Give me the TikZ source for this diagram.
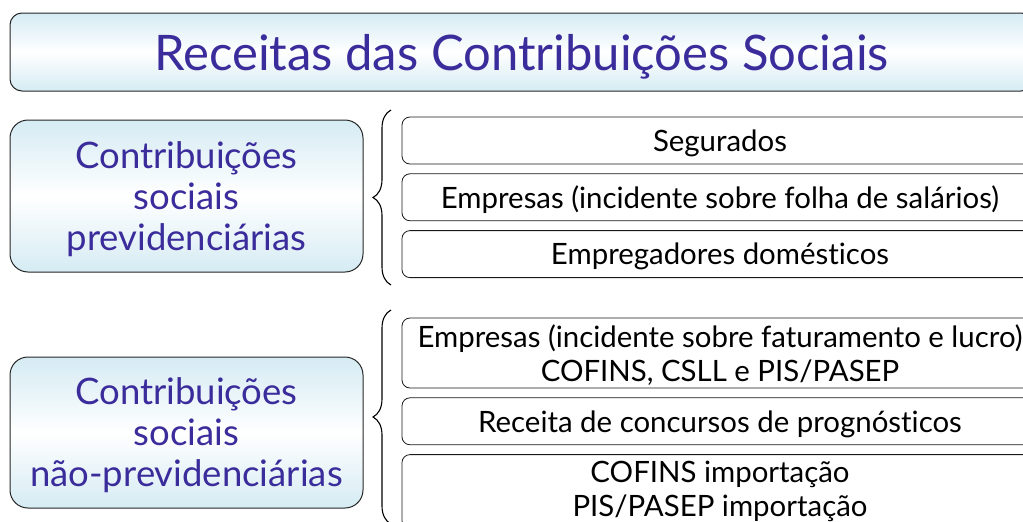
\documentclass[tikz,border=0pt]{standalone}
\usepackage{fontspec}
\setmainfont{Lato}[Ligatures=NoCommon]
\usetikzlibrary{positioning,decorations.pathreplacing}

\definecolor{tinta}{HTML}{3B2C9C}
\definecolor{azulclaro}{HTML}{D5EBF3}

\begin{document}
\begin{tikzpicture}[x=1pt,y=-1pt,node distance=9pt,
	caixaazul/.style={draw=black!85,line width=1pt,rounded corners=18pt,top color=azulclaro,bottom color=azulclaro,middle color=white,text=tinta,align=center,inner sep=0pt,text depth=0pt},
	caixaitem/.style={draw=black!90,line width=0.8pt,fill=white,rounded corners=8pt,minimum width=636pt,align=center,inner sep=0pt,text depth=0pt,font=\fontsize{29.4}{34}\selectfont},
	chave/.style={decorate,decoration={brace,amplitude=18pt},line width=1.1pt}]

	\useasboundingbox (0,0) rectangle (1023,522);
	\clip (0,0) rectangle (1023,522);

	\node [caixaazul,rounded corners=12pt,minimum width=1023pt,minimum height=78pt,font=\fontsize{49}{55}\selectfont] (titulo) at (521.5,52) {Receitas das Contribuições Sociais};

	\node [caixaazul,minimum width=353pt,minimum height=152pt,font=\fontsize{36.5}{41}\selectfont] (prev)    at (186.5,196)   {Contribuições\\sociais\\previdenciárias};
	\node [caixaazul,minimum width=353pt,minimum height=151pt,font=\fontsize{36.5}{41}\selectfont] (naoprev) at (186.5,432.5) {Contribuições\\sociais\\não-previdenciárias};

	\node [caixaitem,minimum height=47pt] (segurados) at (720,140.5) {Segurados};
	\node [caixaitem,minimum height=47pt,below=of segurados] (empfolha)   {Empresas (incidente sobre folha de salários)};
	\node [caixaitem,minimum height=47pt,below=of empfolha]  (domesticos) {Empregadores domésticos};

	\node [caixaitem,minimum height=70pt] (empfat) at (720,353) {Empresas (incidente sobre faturamento e lucro)\\COFINS, CSLL e PIS/PASEP};
	\node [caixaitem,minimum height=47pt,below=of empfat]    (concursos)  {Receita de concursos de prognósticos};
	\node [caixaitem,minimum height=74pt,text depth=6pt,below=of concursos] (importacao) {COFINS importação\\PIS/PASEP importação};

	\coordinate (c1topo) at (391,110);
	\coordinate (c1base) at (391,285);
	\coordinate (c2topo) at (391,310);
	\coordinate (c2base) at (391,524);
	\draw [chave] (c1base) -- (c1topo);
	\draw [chave] (c2base) -- (c2topo);

\end{tikzpicture}
\end{document}
